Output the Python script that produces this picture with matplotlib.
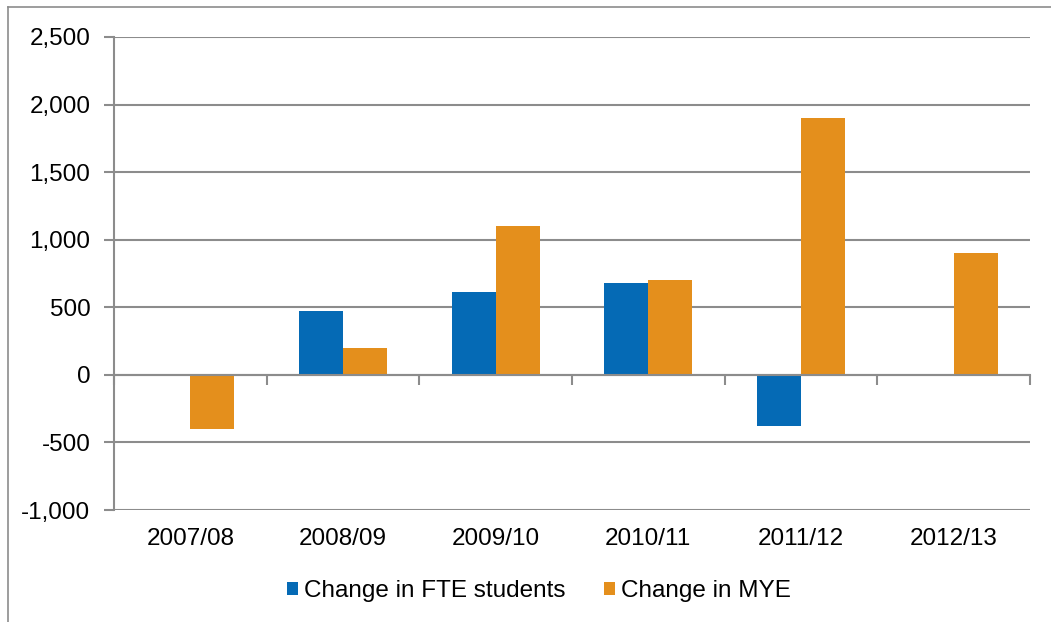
import numpy as np
import matplotlib
matplotlib.use('Agg')
import matplotlib.pyplot as plt
from matplotlib.lines import Line2D
from matplotlib.ticker import FuncFormatter

plt.rcParams['font.family'] = ['Liberation Sans', 'DejaVu Sans']

## Data
years = ['2007/08', '2008/09', '2009/10', '2010/11', '2011/12', '2012/13']
fte_change = [-10, 475, 610, 682, -375, 0]
mye_change = [-400, 200, 1100, 700, 1900, 900]
y_ticks = [-1000, -500, 0, 500, 1000, 1500, 2000, 2500]

blue = '#056AB5'
orange = '#E48F1C'
grey = '#8C8C8C'
fs = 17.5

fig = plt.figure(figsize=(10.51, 6.22), dpi=100)
ax = fig.add_axes([114/1051, 1-510/622, (1030-114)/1051, (510-37)/622])

x = np.arange(len(years))
w = 0.288
ax.bar(x - w/2, fte_change, width=w, color=blue, zorder=3, label='Change in FTE students')
ax.bar(x + w/2, mye_change, width=w, color=orange, zorder=3, label='Change in MYE')

ax.set_xlim(-0.5, len(years) - 0.5)
ax.set_ylim(y_ticks[0], y_ticks[-1])
ax.set_yticks(y_ticks)
ax.yaxis.set_major_formatter(FuncFormatter(lambda v, p: f'{int(v):,}'))
ax.yaxis.grid(True, color=grey, linewidth=1.5, zorder=0)
ax.tick_params(axis='y', length=7, width=1.5, color=grey, labelsize=fs, pad=10)

## category axis sits on zero, ticks at category boundaries
for s in ['top', 'right']:
    ax.spines[s].set_visible(False)
ax.spines['left'].set_color(grey)
ax.spines['left'].set_linewidth(1.5)
ax.spines['bottom'].set_position(('data', 0))
ax.spines['bottom'].set_color(grey)
ax.spines['bottom'].set_linewidth(1.5)
ax.spines['bottom'].set_zorder(4)
ax.set_xticks(np.arange(len(years) + 1) - 0.5)
ax.tick_params(axis='x', length=7, width=1.5, color=grey, labelbottom=False)

## category labels at the bottom
sec = ax.secondary_xaxis(0)
sec.set_xticks(x, years)
sec.tick_params(length=0, labelsize=fs, pad=13)
sec.spines['bottom'].set_visible(False)

fig.legend(loc='center', bbox_to_anchor=(539/1051, 1-591/622), ncol=2, frameon=False,
           fontsize=fs, handlelength=0.45, handleheight=0.45, handletextpad=0.25,
           columnspacing=1.6)

## outer frame of the chart (left and top only visible)
fig.add_artist(Line2D([8/1051, 8/1051], [0, 1-7/622], color=grey, linewidth=1.2))
fig.add_artist(Line2D([8/1051, 1], [1-7/622, 1-7/622], color=grey, linewidth=1.2))

fig.savefig('out.png', dpi=100)
